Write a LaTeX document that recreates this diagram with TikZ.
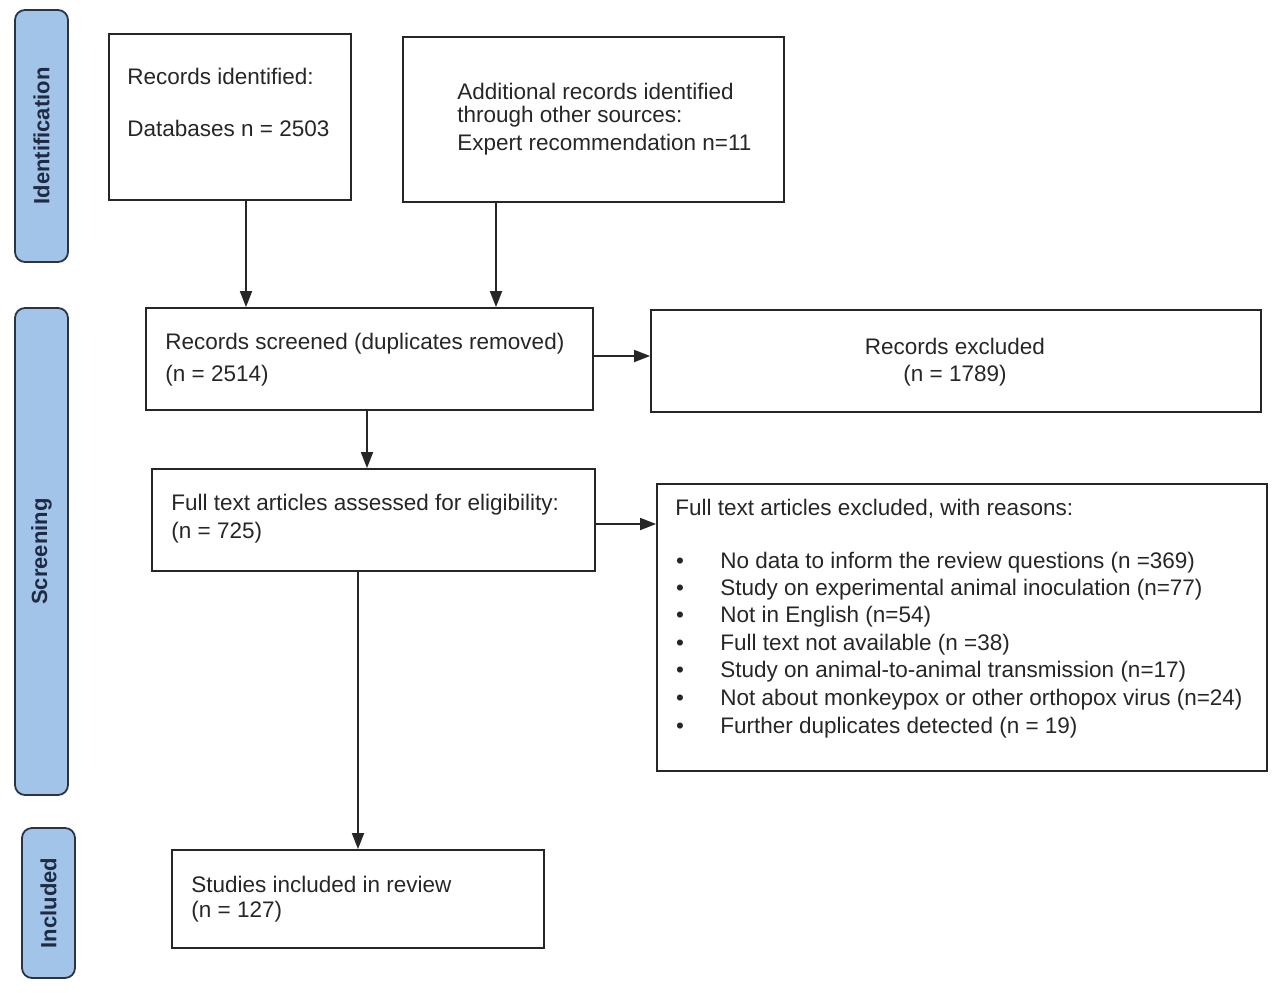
\documentclass[tikz,border=0pt]{standalone}
\usepackage{fontspec}
\setmainfont{Liberation Sans}
\usetikzlibrary{arrows.meta,calc}
\definecolor{sidefill}{HTML}{A2C4E8}
\definecolor{sidedraw}{HTML}{2B3445}
\definecolor{sidetext}{HTML}{1F2A44}
\definecolor{txt}{HTML}{262626}
\tikzset{
  box/.style={draw=black!85, line width=0.9pt, rectangle, inner sep=0pt},
  side/.style={draw=sidedraw, fill=sidefill, line width=0.9pt, rounded corners=5pt, inner sep=0pt, minimum width=26.5pt},
  sidelabel/.style={rotate=90, font=\bfseries\fontsize{11}{12}\selectfont, text=sidetext},
  tx/.style={anchor=west, inner sep=0pt, font=\fontsize{11.25}{12}\selectfont, text=txt},
  txc/.style={anchor=center, inner sep=0pt, font=\fontsize{11.25}{12}\selectfont, text=txt},
  arr/.style={draw=black!85, line width=0.9pt, -{Triangle[length=8pt,width=6pt]}}
}
\begin{document}
\begin{tikzpicture}[x=0.5pt,y=-0.5pt]
\useasboundingbox (0,0) rectangle (1280,992);
% side bars
\node[side, minimum height=126pt] (sid1) at (41.5,136) {};
\node[sidelabel] (sidl1) at (sid1) {Identification};
\node[side, minimum height=243.5pt] (sid2) at (41.5,551.5) {};
\node[sidelabel] (sidl2) at (sid2) {Screening};
\node[side, minimum height=75pt] (sid3) at (48.5,903) {};
\node[sidelabel] (sidl3) at (sid3) {Included};
% boxes
\node[box, minimum width=121pt, minimum height=83pt] (rid) at (230,117) {};
\node[tx] (rid1) at (127,76) {Records identified:};
\node[tx] (rid2) at (127,128) {Databases n = 2503};
\node[box, minimum width=190.5pt, minimum height=82.5pt] (add) at (593.5,119.5) {};
\node[tx] (add1) at (457,91) {Additional records identified};
\node[tx] (add2) at (457,117) {through other sources:};
\node[tx] (add3) at (457,145) {Expert recommendation n=11};
\node[box, minimum width=223.5pt, minimum height=51pt] (rs) at (369.5,359) {};
\node[tx] (rs1) at (165,344) {Records screened (duplicates removed)};
\node[tx] (rs2) at (165,376) {(n = 2514)};
\node[box, minimum width=305pt, minimum height=51pt] (rex) at (956,361) {};
\node[txc] (rex1) at (955,346) {Records excluded};
\node[txc] (rex2) at (955,376) {(n = 1789)};
\node[box, minimum width=221.5pt, minimum height=51pt] (fta) at (373.5,520) {};
\node[tx] (fta1) at (171,505) {Full text articles assessed for eligibility:};
\node[tx] (fta2) at (171,533) {(n = 725)};
\node[box, minimum width=305pt, minimum height=143.5pt] (fex) at (962,627.5) {};
\node[tx] (fex0) at (675,509) {Full text articles excluded, with reasons:};
\foreach \yy/\tt [count=\i] in {563/{No data to inform the review questions (n =369)},
  590/{Study on experimental animal inoculation (n=77)},
  617/{Not in English (n=54)},
  645/{Full text not available (n =38)},
  672/{Study on animal-to-animal transmission (n=17)},
  700/{Not about monkeypox or other orthopox virus (n=24)},
  728/{Further duplicates detected (n = 19)}}{
  \node[txc] (fb\i) at (680,\yy) {\textbullet};
  \node[tx] (ft\i) at (720,\yy) {\tt};
}
\node[box, minimum width=186pt, minimum height=49pt] (sid) at (358,899) {};
\node[tx] (sid1t) at (191,884) {Studies included in review};
\node[tx] (sid2t) at (191,912) {(n = 127)};
% connectors
\draw[arr] ([xshift=8pt]rid.south) -- ([xshift=8pt]rid.south |- rs.north);
\draw[arr] ([xshift=-48.75pt]add.south) -- ([xshift=-48.75pt]add.south |- rs.north);
\draw[arr] ([yshift=1.5pt]rs.east) -- ([yshift=1.5pt]rs.east -| rex.west);
\draw[arr] ([xshift=-1.25pt]rs.south) -- ([xshift=-1.25pt]rs.south |- fta.north);
\draw[arr] ([yshift=-2pt]fta.east) -- ([yshift=-2pt]fta.east -| fex.west);
\draw[arr] (sid.north |- fta.south) -- (sid.north);
\end{tikzpicture}
\end{document}
